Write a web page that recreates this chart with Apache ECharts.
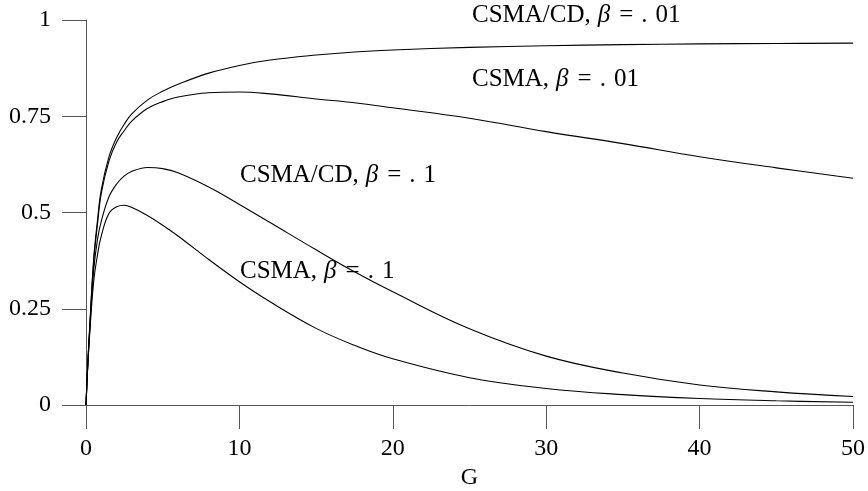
<!DOCTYPE html>
<html>
<head>
<meta charset="utf-8">
<script src="https://cdn.jsdelivr.net/npm/echarts@6/dist/echarts.min.js"></script>
<style>
html,body{margin:0;padding:0;background:#fff;}
#chart{width:868px;height:491px;}
</style>
</head>
<body>
<div id="chart"></div>
<script>
// Offered load G (x values)
var G = [0, 0.1, 0.25, 0.5, 0.75, 1, 1.5, 2, 2.5, 3, 4, 5, 6, 8, 10, 12, 15, 17.5, 20, 25, 30, 35, 40, 45, 50];
// Throughput values
var csmaCd01 = [0, 0.095, 0.21, 0.38, 0.48, 0.56, 0.645, 0.695, 0.73, 0.757, 0.792, 0.815, 0.833, 0.862, 0.882, 0.896, 0.909, 0.917, 0.922, 0.929, 0.933, 0.936, 0.938, 0.939, 0.94];
var csma01   = [0, 0.094, 0.205, 0.37, 0.47, 0.55, 0.634, 0.683, 0.713, 0.738, 0.77, 0.788, 0.80, 0.811, 0.813, 0.808, 0.795, 0.785, 0.772, 0.745, 0.71, 0.679, 0.645, 0.616, 0.589];
var csmaCd1  = [0, 0.09, 0.2, 0.35, 0.43, 0.478, 0.541, 0.574, 0.595, 0.607, 0.617, 0.614, 0.603, 0.566, 0.521, 0.474, 0.403, 0.346, 0.294, 0.198, 0.127, 0.083, 0.052, 0.034, 0.022];
var csma1    = [0, 0.088, 0.19, 0.32, 0.39, 0.44, 0.498, 0.515, 0.519, 0.513, 0.492, 0.467, 0.439, 0.378, 0.32, 0.268, 0.199, 0.155, 0.12, 0.071, 0.043, 0.027, 0.017, 0.011, 0.007];
var xTicks = [0, 10, 20, 30, 40, 50];
var yTicks = [0, 0.25, 0.5, 0.75, 1];
var curveLabels = [
  ['CSMA/CD,', 'β', '=', '.', '01'],
  ['CSMA,', 'β', '=', '.', '01'],
  ['CSMA/CD,', 'β', '=', '.', '1'],
  ['CSMA,', 'β', '=', '.', '1']
];

function pairs(xs, ys){ return xs.map(function(x,i){ return [x, ys[i]]; }); }

var FONT = '"Liberation Serif", "Times New Roman", serif';
var LFS = 25;
var chart = echarts.init(document.getElementById('chart'), null, {renderer:'canvas'});

function lineSeries(ys){
  return {
    type:'line', data: pairs(G, ys), showSymbol:false, smooth:0.4,
    lineStyle:{color:'#000', width:1.1}, silent:true, z:3
  };
}

function labelText(p){
  return '{n|' + p[0] + '}{b|' + p[1] + '}{e|' + p[2] + '}{d|' + p[3] + '}{p|' + p[4] + '}';
}
var richDef = {
  n:{fontFamily:FONT, fontSize:LFS, fill:'#000'},
  b:{fontFamily:FONT, fontSize:LFS, fontStyle:'italic', fill:'#000', padding:[0,0,0,7]},
  e:{fontFamily:FONT, fontSize:LFS, fill:'#000', padding:[0,0,0,9]},
  d:{fontFamily:FONT, fontSize:LFS, fill:'#000', padding:[0,0,0,8]},
  p:{fontFamily:FONT, fontSize:LFS, fill:'#000', padding:[0,0,0,8]}
};
var labelPos = [[472, 23], [472, 87], [240, 183], [240, 279]];

var graphics = curveLabels.map(function(parts, k){
  return {
    type:'text', left:labelPos[k][0], top:labelPos[k][1]-20, z:10,
    style:{ text: labelText(parts), rich: richDef, fill:'#000', font: LFS + 'px ' + FONT }
  };
});

chart.setOption({
  animation:false,
  backgroundColor:'#fff',
  grid:{left:86, right:15, top:20, bottom:86, containLabel:false, outerBoundsMode:'none'},
  xAxis:{
    type:'value', min:xTicks[0], max:xTicks[xTicks.length-1], interval:10,
    name:'G', nameLocation:'middle', nameGap:55,
    nameTextStyle:{fontFamily:FONT, fontSize:24, color:'#000'},
    axisLine:{show:true, onZero:false, lineStyle:{color:'#555', width:1}},
    axisTick:{show:true, inside:false, length:24, lineStyle:{color:'#555', width:1}},
    axisLabel:{fontFamily:FONT, fontSize:24, color:'#000', margin:32},
    splitLine:{show:false}
  },
  yAxis:{
    type:'value', min:yTicks[0], max:yTicks[yTicks.length-1], interval:0.25,
    axisLine:{show:true, onZero:false, lineStyle:{color:'#555', width:1}},
    axisTick:{show:true, inside:false, length:24, lineStyle:{color:'#555', width:1}},
    axisLabel:{fontFamily:FONT, fontSize:24, color:'#000', margin:35,
      formatter:function(v){ return String(v); }},
    splitLine:{show:false}
  },
  series:[lineSeries(csmaCd01), lineSeries(csma01), lineSeries(csmaCd1), lineSeries(csma1)],
  graphic: graphics
});
</script>
</body>
</html>
